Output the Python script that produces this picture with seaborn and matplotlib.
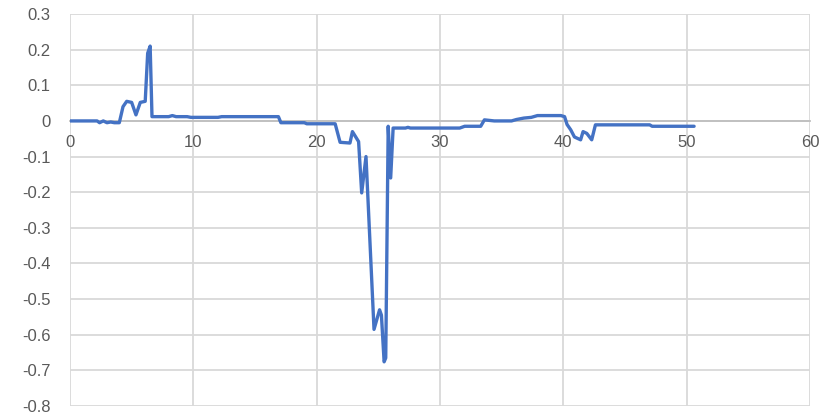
import matplotlib
matplotlib.use("Agg")
import matplotlib.pyplot as plt
import seaborn as sns

# series
x_vals = [0, 2.2, 2.4, 2.7, 3.0, 3.3, 3.6, 4.0, 4.3, 4.6, 5.0, 5.35, 5.7, 6.1,
          6.3, 6.5, 6.65, 8.0, 8.3, 8.6, 9.5, 9.8, 12.0, 12.3, 16.9, 17.1,
          19.0, 19.2, 21.5, 21.9, 22.7, 22.9, 23.4, 23.65, 24.0, 24.65, 25.1,
          25.25, 25.47, 25.6, 25.8, 26.0, 26.2, 27.2, 27.4, 27.6, 31.6, 32.0,
          33.3, 33.6, 34.4, 35.8, 36.2, 36.8, 37.4, 37.9, 39.8, 40.1, 40.3,
          40.6, 40.9, 41.4, 41.6, 41.9, 42.3, 42.6, 47.0, 47.2, 50.6]
y_vals = [0, 0, -0.005, 0, -0.005, -0.003, -0.005, -0.005, 0.04, 0.055, 0.052,
          0.017, 0.052, 0.055, 0.19, 0.21, 0.012, 0.012, 0.015, 0.012, 0.012,
          0.01, 0.01, 0.012, 0.012, -0.005, -0.005, -0.008, -0.008, -0.06,
          -0.062, -0.03, -0.058, -0.202, -0.10, -0.585, -0.53, -0.545, -0.676,
          -0.665, -0.015, -0.16, -0.02, -0.02, -0.018, -0.02, -0.02, -0.015,
          -0.015, 0.003, 0.0, 0.0, 0.004, 0.008, 0.01, 0.015, 0.015, 0.012,
          -0.01, -0.025, -0.045, -0.053, -0.03, -0.035, -0.053, -0.011,
          -0.011, -0.015, -0.015]

x_ticks = [0, 10, 20, 30, 40, 50, 60]
y_ticks = [0.3, 0.2, 0.1, 0, -0.1, -0.2, -0.3, -0.4, -0.5, -0.6, -0.7, -0.8]

sns.set_style("white")
plt.rcParams["font.family"] = ["Liberation Sans", "DejaVu Sans"]

fig = plt.figure(figsize=(8.32, 4.16), dpi=100)
ax = fig.add_axes([0.0841, 0.024, 0.8895, 0.9423])

sns.lineplot(x=x_vals, y=y_vals, ax=ax, color="#4472C4", linewidth=2.4,
             sort=False, estimator=None)

ax.set_xlim(0, 60)
ax.set_ylim(-0.8, 0.3)
ax.set_xticks(x_ticks)
ax.set_yticks(y_ticks)
ax.set_yticklabels([f"{v:g}" for v in y_ticks])
ax.grid(True, color="#D9D9D9", linewidth=1.3)
ax.set_axisbelow(True)

for side in ["top", "right", "left"]:
    ax.spines[side].set_visible(False)
ax.spines["bottom"].set_position(("data", 0))
ax.spines["bottom"].set_color("#BFBFBF")
ax.spines["bottom"].set_linewidth(1.3)
ax.spines["bottom"].set_zorder(1)

ax.tick_params(axis="x", length=0, pad=10, labelsize=12, labelcolor="#595959")
ax.tick_params(axis="y", length=0, pad=14, labelsize=12, labelcolor="#595959")

fig.savefig("out.png", dpi=100)
